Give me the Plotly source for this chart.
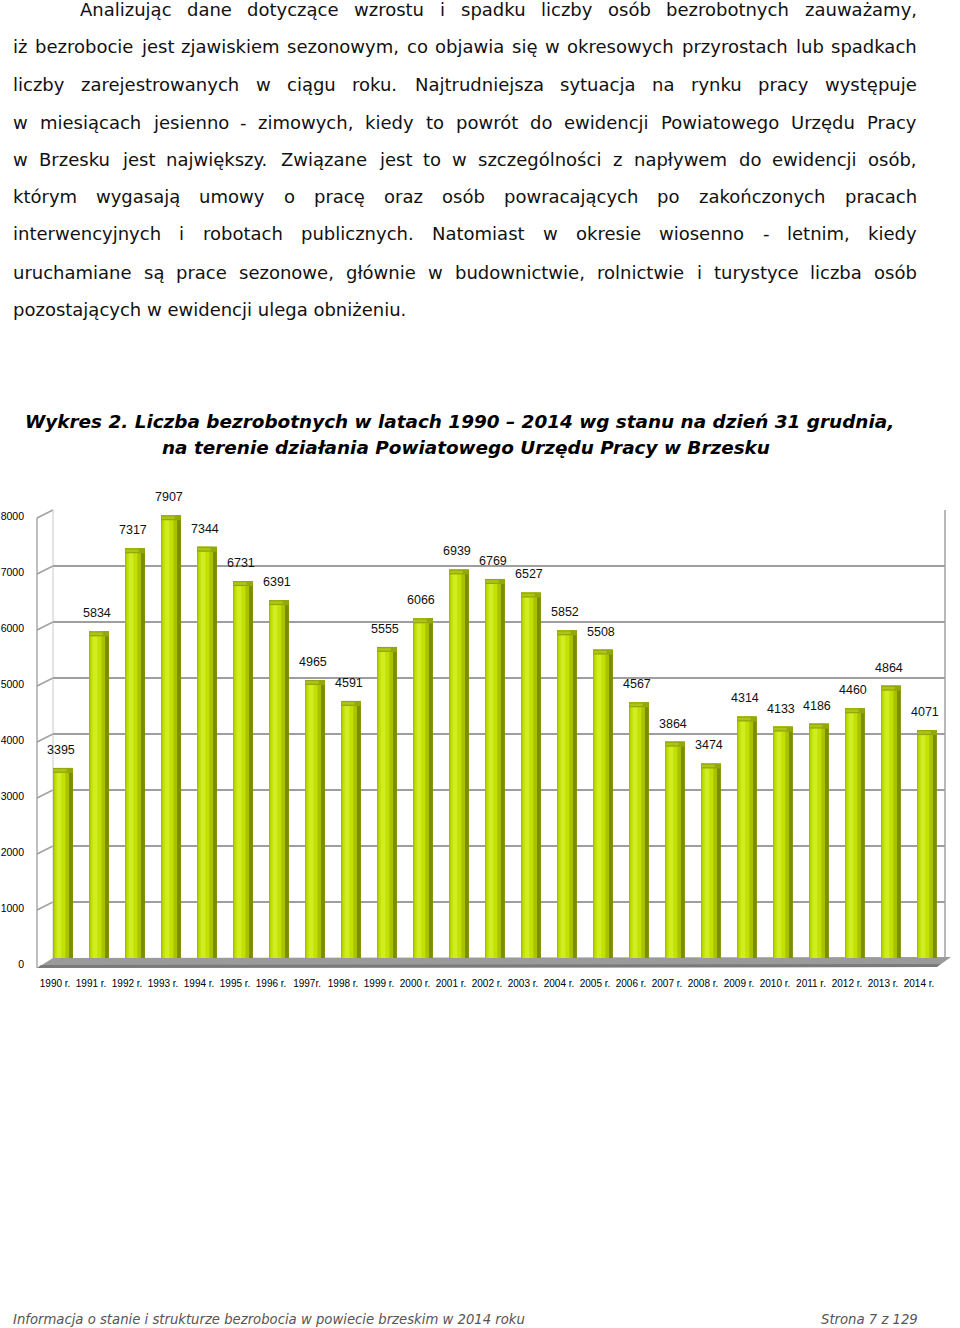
import plotly.graph_objects as go

W, H = 960, 1328

# ---------------- data ----------------
years = ["1990 r.", "1991 r.", "1992 r.", "1993 r.", "1994 r.", "1995 r.", "1996 r.",
         "1997r.", "1998 r.", "1999 r.", "2000 r.", "2001 r.", "2002 r.", "2003 r.",
         "2004 r.", "2005 r.", "2006 r.", "2007 r.", "2008 r.", "2009 r.", "2010 r.",
         "2011 r.", "2012 r.", "2013 r.", "2014 r."]
unemployed = [3395, 5834, 7317, 7907, 7344, 6731, 6391, 4965, 4591, 5555, 6066, 6939,
              6769, 6527, 5852, 5508, 4567, 3864, 3474, 4314, 4133, 4186, 4460, 4864, 4071]
y_ticks = [0, 1000, 2000, 3000, 4000, 5000, 6000, 7000, 8000]

paragraph_lines = [
    "Analizując dane dotyczące wzrostu i spadku liczby osób bezrobotnych zauważamy,",
    "iż bezrobocie jest zjawiskiem sezonowym, co objawia się w okresowych przyrostach lub spadkach",
    "liczby zarejestrowanych w ciągu roku. Najtrudniejsza sytuacja na rynku pracy występuje",
    "w miesiącach jesienno - zimowych, kiedy to powrót do ewidencji Powiatowego Urzędu Pracy",
    "w Brzesku jest największy. Związane jest to w szczególności z napływem do ewidencji osób,",
    "którym wygasają umowy o pracę oraz osób powracających po zakończonych pracach",
    "interwencyjnych i robotach publicznych. Natomiast w okresie wiosenno - letnim, kiedy",
    "uruchamiane są prace sezonowe, głównie w budownictwie, rolnictwie i turystyce liczba osób",
    "pozostających w ewidencji ulega obniżeniu.",
]
title_lines = [
    "Wykres 2. Liczba bezrobotnych w latach 1990 – 2014 wg stanu na dzień 31 grudnia,",
    "na terenie działania Powiatowego Urzędu Pracy w Brzesku",
]
footer_left = "Informacja o stanie i strukturze bezrobocia w powiecie brzeskim w 2014 roku"
footer_right = "Strona 7 z 129"

# ---------------- helpers ----------------
def PX(x):
    return x / W


def PY(y):
    return 1 - y / H


DV = {' ': .318, 'a': .613, 'b': .635, 'c': .550, 'd': .635, 'e': .615, 'f': .352, 'g': .635,
      'h': .634, 'i': .278, 'j': .278, 'k': .579, 'l': .278, 'm': .974, 'n': .634, 'o': .612,
      'p': .635, 'q': .635, 'r': .411, 's': .521, 't': .392, 'u': .634, 'v': .592, 'w': .818,
      'x': .592, 'y': .592, 'z': .525, 'A': .684, 'B': .686, 'C': .698, 'D': .770, 'E': .632,
      'F': .575, 'G': .775, 'H': .752, 'I': .295, 'J': .295, 'K': .656, 'L': .557, 'M': .863,
      'N': .748, 'O': .787, 'P': .603, 'R': .695, 'S': .635, 'T': .611, 'U': .732, 'W': .989,
      'Z': .685, ',': .318, '.': .318, '-': .361, '–': .500, 'ł': .300}
for d in "0123456789":
    DV[d] = .636
PL = {'ą': 'a', 'ę': 'e', 'ó': 'o', 'ś': 's', 'ć': 'c', 'ż': 'z', 'ź': 'z', 'ń': 'n'}


def em(s):
    return sum(DV.get(PL.get(ch, ch), .6) for ch in s)


TEXT_FONT = "DejaVu Sans"
TXT_SIZE = 18
TXT_COLOR = "#111"
annotations = []

# paragraph (justified)
line_y = [10, 47, 84, 122, 159, 197, 234, 272, 309]
for k, line in enumerate(paragraph_lines):
    left = 80 if k == 0 else 13
    right = 917
    words = line.split()
    font = dict(family=TEXT_FONT, size=TXT_SIZE, color=TXT_COLOR)
    if k == len(paragraph_lines) - 1:
        annotations.append(dict(x=PX(left - 2), y=PY(line_y[k]), xref="paper", yref="paper",
                                text=line, showarrow=False, xanchor="left", yanchor="middle",
                                font=font))
        continue
    widths = [em(w) * TXT_SIZE for w in words]
    gap = (right - left - sum(widths)) / (len(words) - 1)
    x = left
    for j, w in enumerate(words):
        if j == len(words) - 1:
            annotations.append(dict(x=PX(right + 2), y=PY(line_y[k]), xref="paper", yref="paper",
                                    text=w, showarrow=False, xanchor="right", yanchor="middle",
                                    font=font))
        else:
            annotations.append(dict(x=PX(x - 2), y=PY(line_y[k]), xref="paper", yref="paper",
                                    text=w, showarrow=False, xanchor="left", yanchor="middle",
                                    font=font))
        x += widths[j] + gap

# title
title_size = 0.985 * 868 / (em(title_lines[0]) * 1.1)
for txt, cx, cy in zip(title_lines, [459, 466], [421.5, 447.5]):
    annotations.append(dict(x=PX(cx), y=PY(cy), xref="paper", yref="paper",
                            text=txt, showarrow=False, xanchor="center", yanchor="middle",
                            font=dict(family=TEXT_FONT, size=title_size, color="#000",
                                      weight="bold", style="italic")))

# footer
foot_size = 512 / em(footer_left)
annotations.append(dict(x=PX(11), y=PY(1319), xref="paper", yref="paper", text=footer_left,
                        showarrow=False, xanchor="left", yanchor="middle",
                        font=dict(family=TEXT_FONT, size=foot_size, color="#555", style="italic")))
annotations.append(dict(x=PX(920), y=PY(1319), xref="paper", yref="paper", text=footer_right,
                        showarrow=False, xanchor="right", yanchor="middle",
                        font=dict(family=TEXT_FONT, size=foot_size, color="#555", style="italic")))

# data labels
for cat, v in zip(years, unemployed):
    annotations.append(dict(x=cat, y=v, xref="x", yref="y", text=str(v), showarrow=False,
                            xanchor="center", yanchor="middle", yshift=18, xshift=-2,
                            font=dict(family="Liberation Sans", size=12.5, color="#111")))

# ---------------- chart geometry ----------------
X_LEFT, X_RIGHT = 53, 945
Y_TOP, Y_ZERO = 510, 958


def ypx(v):
    return Y_ZERO - v * (Y_ZERO - Y_TOP) / 8000.0


shapes = []
# floor
shapes.append(dict(type="path", xref="paper", yref="paper", layer="below",
                   path=f"M {PX(37)},{PY(968)} L {PX(53)},{PY(958)} L {PX(951)},{PY(957)} "
                        f"L {PX(937)},{PY(967)} Z",
                   fillcolor="#9a9a9a", line=dict(width=0)))
shapes.append(dict(type="path", xref="paper", yref="paper", layer="below",
                   path=f"M {PX(37)},{PY(968)} L {PX(937)},{PY(967)} L {PX(940)},{PY(964)} "
                        f"L {PX(41)},{PY(965)} Z",
                   fillcolor="#7a7a7a", line=dict(width=0)))
# left wall
shapes.append(dict(type="line", xref="paper", yref="paper", layer="below",
                   x0=PX(37), x1=PX(37), y0=PY(ypx(8000) + 8), y1=PY(968),
                   line=dict(color="#a8a8a8", width=1.5)))
for t in y_ticks[1:]:
    shapes.append(dict(type="line", xref="paper", yref="paper", layer="below",
                       x0=PX(37), x1=PX(X_LEFT), y0=PY(ypx(t) + 8), y1=PY(ypx(t)),
                       line=dict(color="#a0a0a0", width=1.5)))
shapes.append(dict(type="line", xref="paper", yref="paper", layer="below",
                   x0=PX(X_LEFT), x1=PX(X_LEFT), y0=PY(Y_TOP), y1=PY(Y_ZERO),
                   line=dict(color="#c8c8c8", width=1)))
# right wall edge
shapes.append(dict(type="line", xref="paper", yref="paper", layer="below",
                   x0=PX(X_RIGHT), x1=PX(X_RIGHT), y0=PY(Y_TOP), y1=PY(Y_ZERO),
                   line=dict(color="#a0a0a0", width=1.5)))

fig = go.Figure()
layers = [
    (-0.275, 0.55, "#7d8f00"),
    (-0.275, 0.44, "#a8c400"),
    (-0.235, 0.30, "#c4e000"),
    (-0.175, 0.13, "#d0ec26"),
]
for off, wd, col in layers:
    fig.add_trace(go.Bar(x=years, y=unemployed, offset=off, width=wd,
                         marker=dict(color=col, line=dict(width=0)),
                         hoverinfo="skip", showlegend=False))
# darker cylinder cap
cap_h = 90
fig.add_trace(go.Bar(x=years, y=[cap_h] * len(unemployed),
                     base=[v - cap_h for v in unemployed], offset=-0.275, width=0.55,
                     marker=dict(color="#93a80a", line=dict(width=0)),
                     hoverinfo="skip", showlegend=False))
fig.add_trace(go.Bar(x=years, y=[cap_h * 0.5] * len(unemployed),
                     base=[v - cap_h * 0.75 for v in unemployed], offset=-0.26, width=0.36,
                     marker=dict(color="#aec41a", line=dict(width=0)),
                     hoverinfo="skip", showlegend=False))

fig.update_layout(
    width=W, height=H,
    autosize=False,
    margin=dict(l=0, r=0, t=0, b=0, pad=0, autoexpand=False),
    paper_bgcolor="white", plot_bgcolor="rgba(0,0,0,0)",
    barmode="overlay",
    showlegend=False,
    annotations=annotations,
    shapes=shapes,
    xaxis=dict(domain=[PX(X_LEFT), PX(X_RIGHT)], type="category",
               range=[-0.28, len(years) - 0.5], automargin=False,
               showgrid=False, zeroline=False, showline=False, ticks="",
               ticklabelstandoff=18, ticklabelshift=-8,
               tickfont=dict(family="Liberation Sans", size=10, color="#000")),
    yaxis=dict(domain=[PY(Y_ZERO), PY(Y_TOP)], range=[0, 8000], automargin=False,
               tickvals=y_ticks, ticktext=[str(t) for t in y_ticks],
               showgrid=True, gridcolor="#9e9e9e", gridwidth=2,
               zeroline=False, showline=False, ticks="",
               ticklabelstandoff=28, ticklabelshift=6,
               tickfont=dict(family="Liberation Sans", size=10.5, color="#000")),
)

POST = """
document.documentElement.style.margin='0';
document.documentElement.style.padding='0';
document.documentElement.style.overflow='hidden';
document.body.style.margin='0';
document.body.style.padding='0';
document.body.style.overflow='hidden';
var gd = document.getElementsByClassName('plotly-graph-div')[0];
if (gd) { gd.style.position='fixed'; gd.style.left='0px'; gd.style.top='0px'; }
"""

fig.write_html(
    "out.html",
    config={"responsive": False, "displayModeBar": False},
    post_script=POST,
)
